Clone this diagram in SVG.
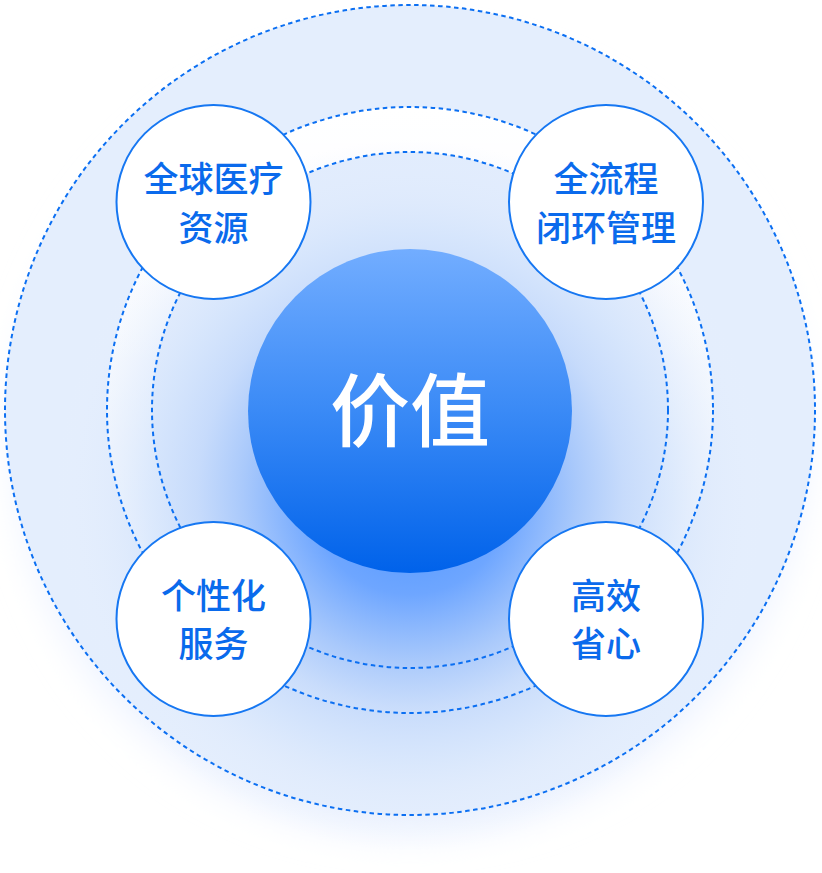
<svg xmlns="http://www.w3.org/2000/svg" width="822" height="873" viewBox="0 0 822 873">
<defs>
  <radialGradient id="glow" gradientUnits="userSpaceOnUse" cx="410" cy="495" r="355">
    <stop offset="0" stop-color="#4b93ff" stop-opacity="1"/>
    <stop offset="0.28" stop-color="#6ea6ff" stop-opacity="1"/>
    <stop offset="0.47" stop-color="#a6c7fb" stop-opacity="0.95"/>
    <stop offset="0.6" stop-color="#c2d8fb" stop-opacity="0.85"/>
    <stop offset="0.74" stop-color="#d2e3fc" stop-opacity="0.7"/>
    <stop offset="0.84" stop-color="#dde9fc" stop-opacity="0.5"/>
    <stop offset="1" stop-color="#e8f0fd" stop-opacity="0"/>
  </radialGradient>
  <linearGradient id="ringWhite" x1="0" y1="0" x2="0" y2="1">
    <stop offset="0" stop-color="#ffffff" stop-opacity="1"/>
    <stop offset="1" stop-color="#ffffff" stop-opacity="0.5"/>
  </linearGradient>
  <linearGradient id="core" x1="0" y1="0" x2="0" y2="1">
    <stop offset="0" stop-color="#72adff"/>
    <stop offset="0.5" stop-color="#3a8af6"/>
    <stop offset="1" stop-color="#0062ea"/>
  </linearGradient>
  <filter id="soft" x="-20%" y="-20%" width="140%" height="140%">
    <feGaussianBlur stdDeviation="18"/>
  </filter>
</defs>
<style>
  .dash{fill:none;stroke:#0b6ff2;stroke-width:2;stroke-dasharray:4.5 3.5}
  .node circle{fill:#ffffff;stroke:#1677f2;stroke-width:2}
  .node text{font-family:"Noto Sans CJK SC","Noto Sans",sans-serif;font-size:35px;font-weight:500;fill:#0a6aec;text-anchor:middle}
  .core text{font-family:"Noto Sans CJK SC","Noto Sans",sans-serif;font-size:80px;font-weight:500;fill:#ffffff;text-anchor:middle}
</style>
<rect width="822" height="873" fill="#ffffff"/>
<g id="background">
  <circle cx="410" cy="440" r="395" fill="#edf3fe" filter="url(#soft)"/>
  <circle cx="410" cy="410" r="405" fill="#e4eefd"/>
  <circle cx="410" cy="410" r="303" fill="url(#ringWhite)"/>
  <circle cx="410" cy="410" r="258" fill="#e1ecfd"/>
  <rect x="0" y="0" width="822" height="873" fill="url(#glow)"/>
</g>
<g id="rings">
  <circle class="dash" cx="410" cy="410" r="405"/>
  <circle class="dash" cx="410" cy="410" r="303"/>
  <circle class="dash" cx="410" cy="410" r="258"/>
</g>
<g id="core" class="core">
  <circle cx="410" cy="411" r="162" fill="url(#core)"/>
  <text x="410" y="440">价值</text>
</g>
<g id="node-global" class="node">
  <circle cx="213.5" cy="202" r="97"/>
  <text x="213.5" y="192">全球医疗</text>
  <text x="213.5" y="240.5">资源</text>
</g>
<g id="node-process" class="node">
  <circle cx="606" cy="202" r="97"/>
  <text x="606" y="192">全流程</text>
  <text x="606" y="240.5">闭环管理</text>
</g>
<g id="node-personal" class="node">
  <circle cx="213.5" cy="619" r="97"/>
  <text x="213.5" y="609">个性化</text>
  <text x="213.5" y="657">服务</text>
</g>
<g id="node-efficient" class="node">
  <circle cx="606" cy="619" r="97"/>
  <text x="606" y="609">高效</text>
  <text x="606" y="657">省心</text>
</g>
</svg>
